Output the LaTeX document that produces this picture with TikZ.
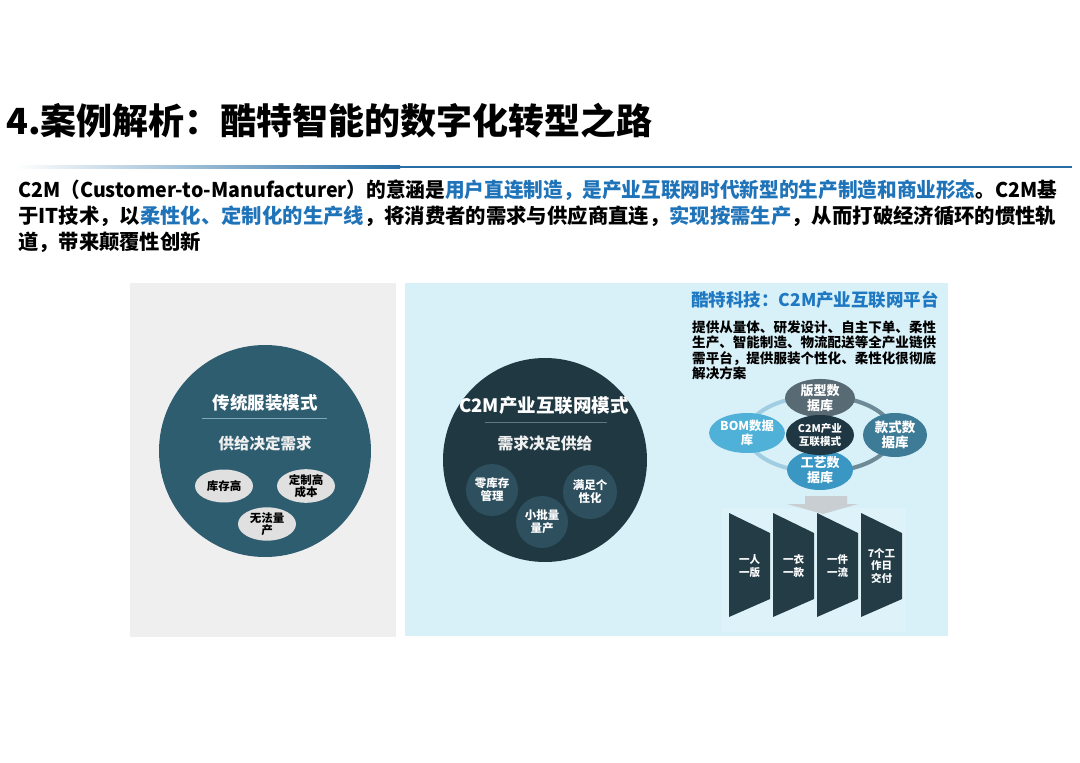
\documentclass[tikz,border=0pt]{standalone}
\usepackage{fontspec}
\usepackage{graphicx}
\setmainfont{Noto Sans CJK SC}
\usetikzlibrary{shapes.geometric}
\definecolor{cblue}{RGB}{31,115,185}
\definecolor{tblue}{RGB}{30,120,194}
\definecolor{rulec}{RGB}{40,110,165}
\definecolor{lpanel}{RGB}{239,239,239}
\definecolor{rpanel}{RGB}{216,240,248}
\definecolor{rband}{RGB}{222,242,249}
\definecolor{lcirc}{RGB}{46,93,112}
\definecolor{lell}{RGB}{224,224,224}
\definecolor{lsep}{RGB}{130,168,184}
\definecolor{mcirc}{RGB}{31,56,66}
\definecolor{msmall}{RGB}{45,79,94}
\definecolor{msep}{RGB}{95,120,132}
\definecolor{ctop}{RGB}{88,106,115}
\definecolor{cleft}{RGB}{79,176,216}
\definecolor{ccen}{RGB}{30,55,66}
\definecolor{cright}{RGB}{62,123,150}
\definecolor{cbot}{RGB}{58,151,196}
\definecolor{ringL}{RGB}{160,205,225}
\definecolor{ringD}{RGB}{110,138,150}
\definecolor{arrowg}{RGB}{200,206,209}
\definecolor{chev}{RGB}{35,60,70}
\newcommand{\fsz}[2]{\fontsize{#1}{#2}\selectfont}
\tikzset{
  lbl/.style={inner sep=0pt, align=center, font=\bfseries},
  lellipse/.style={ellipse, fill=lell, inner sep=0pt, minimum width=58pt, minimum height=33pt, align=center, font=\bfseries\fsz{11.5}{12.5}, text=black},
  msmallc/.style={circle, fill=msmall, inner sep=0pt, minimum size=52pt, align=center, font=\bfseries\fsz{11.5}{13}, text=white},
  cnode/.style={ellipse, inner sep=0pt, align=center, font=\bfseries\fsz{13}{14.5}, text=white},
  chevshape/.style={fill=chev},
  chevtext/.style={inner sep=0pt, align=center, font=\bfseries\fsz{10.5}{12.5}, text=white},
}
\begin{document}
\begin{tikzpicture}[x=1pt,y=-1pt]
\useasboundingbox (0,0) rectangle (1080,763);
\fill[white] (0,0) rectangle (1080,763);

% title
\node[lbl, anchor=west, font=\bfseries\fsz{36}{40}] (title) at (6,121) {4.案例解析：酷特智能的数字化转型之路};
\shade[left color=white, right color=rulec] (15,165.7) rectangle (400,168.2);
\fill[rulec] (400,165.7) rectangle (1072,168.2);

% paragraph
\node[lbl, anchor=west, font=\bfseries\fsz{20.3}{24}] (p1) at (18,190) {\resizebox{1039pt}{\height}{C2M（Customer-to-Manufacturer）的意涵是{\color{cblue}用户直连制造，是产业互联网时代新型的生产制造和商业形态}。C2M基}};
\node[lbl, anchor=west, font=\bfseries\fsz{20.3}{24}] (p2) at (18,216) {\resizebox{1038pt}{\height}{于IT技术，以{\color{cblue}柔性化、定制化的生产线}，将消费者的需求与供应商直连，{\color{cblue}实现按需生产}，从而打破经济循环的惯性轨}};
\node[lbl, anchor=west, font=\bfseries\fsz{20.3}{24}] (p3) at (18,242) {道，带来颠覆性创新};

% panels
\fill[lpanel] (130,283) rectangle (396,637);
\fill[rpanel] (405,283) rectangle (948,636);
\fill[rband] (722,508) rectangle (906,632);

% left circle
\node[circle, fill=lcirc, minimum size=212pt, inner sep=0pt] (lc) at (265,451) {};
\node[lbl, text=white, font=\bfseries\fsz{17.5}{20}] (lct) at (265,403) {传统服装模式};
\coordinate (lsepA) at (202,418);
\coordinate (lsepB) at (327,418);
\draw[lsep, line width=0.8pt] (lsepA) -- (lsepB);
\node[lbl, text=white!94!black, font=\bfseries\fsz{15.5}{18}] (lcs) at (265,444) {供给决定需求};
\node[lellipse] (e1) at (224,486) {库存高};
\node[lellipse] (e2) at (306,486) {定制高\\成本};
\node[lellipse] (e3) at (267,524) {无法量\\产};

% middle circle
\node[circle, fill=mcirc, minimum size=204pt, inner sep=0pt] (mc) at (545,460) {};
\node[lbl, text=white, font=\bfseries\fsz{18.5}{21}] (mct) at (544,406) {C2M产业互联网模式};
\coordinate (msepA) at (485,422);
\coordinate (msepB) at (607,422);
\draw[msep, line width=0.8pt] (msepA) -- (msepB);
\node[lbl, text=white!94!black, font=\bfseries\fsz{15.8}{18}] (mcs) at (545,443) {需求决定供给};
\node[msmallc] (s1) at (492,490) {零库存\\管理};
\node[msmallc, minimum size=54pt] (s2) at (590,492) {满足个\\性化};
\node[msmallc] (s3) at (542,522) {小批量\\量产};

% right panel text
\node[lbl, anchor=west, text=tblue, font=\bfseries\fsz{17.5}{20}] (rt) at (691,300) {酷特科技：C2M产业互联网平台};
\node[lbl, anchor=north west, align=left, font=\bfseries\fsz{13.55}{15.4}] (rp) at (692,320.5) {提供从量体、研发设计、自主下单、柔性\\生产、智能制造、物流配送等全产业链供\\需平台，提供服装个性化、柔性化很彻底\\解决方案};

% cycle ring
\draw[ringL, line width=4pt] (820,434) ellipse [x radius=73, y radius=38];
\begin{scope}
  \clip (820,380) rectangle (900,490);
  \draw[ringD, line width=4pt] (820,434) ellipse [x radius=73, y radius=38];
\end{scope}

% grey arrow
\fill[arrowg] (805,496) -- (847,496) -- (847,504) -- (858,504) -- (823,514) -- (787,504) -- (805,504) -- cycle;

% cycle nodes
\node[cnode, fill=ctop, minimum width=70pt, minimum height=38pt] (ntop) at (820,398) {版型数\\据库};
\node[cnode, fill=cleft, minimum width=62pt, minimum height=40pt, font=\bfseries\fsz{12.3}{14.5}] (nleft) at (747,433) {BOM数据\\库};
\node[cnode, fill=cright, minimum width=64pt, minimum height=44pt, font=\bfseries\fsz{13.5}{15}] (nright) at (895,435) {款式数\\据库};
\node[cnode, fill=cbot, minimum width=66pt, minimum height=40pt] (nbot) at (820,470) {工艺数\\据库};
\node[cnode, fill=ccen, minimum width=68pt, minimum height=40pt, font=\bfseries\fsz{10.6}{13}] (ncen) at (820,435) {C2M产业\\互联模式};

% chevrons
\foreach \i/\lx in {1/729,2/773,3/817,4/861}{
  \fill[chevshape] (\lx,513) -- ({\lx+41},533) -- ({\lx+41},599) -- (\lx,617) -- cycle;
}
\node[chevtext] (c1) at (749.5,566) {一人\\一版};
\node[chevtext] (c2) at (793.5,566) {一衣\\一款};
\node[chevtext] (c3) at (837.5,566) {一件\\一流};
\node[chevtext] (c4) at (881.5,566) {7个工\\作日\\交付};
\end{tikzpicture}
\end{document}
